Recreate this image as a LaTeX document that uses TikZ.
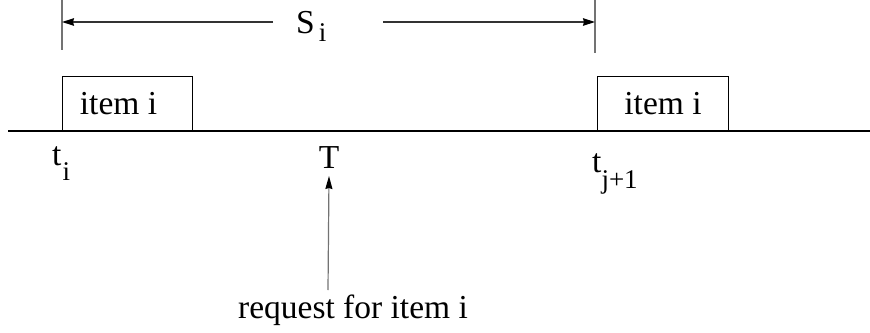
\documentclass[tikz,border=0pt]{standalone}
\usepackage{fontspec}
\setmainfont{Liberation Serif}
\usetikzlibrary{arrows.meta}
\newcommand{\bigtxt}{\fontsize{33.5}{40}\selectfont}
\newcommand{\subtxt}[2]{\raisebox{-#1pt}{\fontsize{27}{32}\selectfont #2}}
\begin{document}
\begin{tikzpicture}[x=1pt,y=-1pt,
  lbl/.style={inner sep=0pt, anchor=base west, font=\bigtxt},
  itembox/.style={draw, line width=1pt, minimum width=130pt, minimum height=54pt, inner sep=0pt, font=\bigtxt},
  axis/.style={line width=1.2pt},
  tick/.style={line width=1.2pt, draw=black!55},
  dimarrow/.style={line width=1.2pt, draw=black!80, -{Stealth[length=12pt,width=7.5pt,inset=1pt,color=black]}},
  reqarrow/.style={line width=1.2pt, draw=black!55, -{Stealth[length=13pt,width=7pt,inset=1pt,color=black]}}
]
\useasboundingbox (0,0) rectangle (870,332);
% time axis
\coordinate (axL) at (8,131);
\coordinate (axR) at (870,131);
\draw[axis] (axL) -- (axR);
% item boxes
\node[itembox, anchor=south west] (box1) at (62,131) {item i\hspace*{18pt}};
\node[itembox, anchor=south west, minimum width=131pt] (box2) at (597,131) {item i};
% ticks
\coordinate (lt0) at (62,0);
\coordinate (lt1) at (62,50);
\coordinate (rt0) at (595,0);
\coordinate (rt1) at (595,53);
\draw[tick] (lt0) -- (lt1);
\draw[tick] (rt0) -- (rt1);
% S_i dimension
\node[lbl] (S) at (296,33) {S\kern4pt\subtxt{9}{i}};
\coordinate (la) at (273,22);
\coordinate (lb) at (62,22);
\coordinate (ra) at (383,22);
\coordinate (rb) at (595,22);
\draw[dimarrow] (la) -- (lb);
\draw[dimarrow] (ra) -- (rb);
% labels on axis
\node[lbl] (ti) at (52,165) {t\kern1pt\subtxt{15}{i}};
\node[lbl, anchor=base] (T) at (329,168) {T};
\node[lbl] (tj) at (592,172) {t\subtxt{16}{j+1}};
% request
\node[lbl, anchor=base] (req) at (353,318) {request for item i};
\coordinate (ra0) at (328,290);
\draw[reqarrow] (ra0) -- (T.south |- 0,176);
\end{tikzpicture}
\end{document}
